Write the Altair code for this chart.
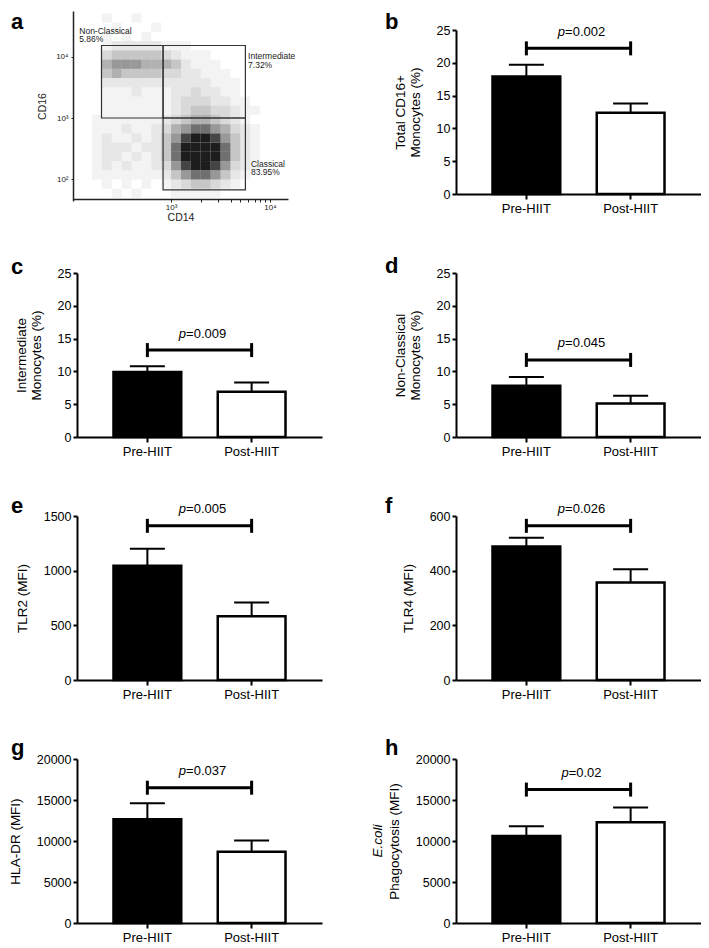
import altair as alt
import pandas as pd

FONT = "Liberation Sans, Arial, Helvetica, sans-serif"
GROUPS = ["Pre-HIIT", "Post-HIIT"]

# ---------------- bar panels b..h ----------------
PANELS = ["b", "c", "d", "e", "f", "g", "h"]
Y_TITLES = [
    ["Total CD16+", "Monocytes (%)"],
    ["Intermediate", "Monocytes (%)"],
    ["Non-Classical", "Monocytes (%)"],
    "TLR2 (MFI)",
    "TLR4 (MFI)",
    "HLA-DR (MFI)",
    "Phagocytosis (MFI)",
]
MEAN_PRE = [17.9, 9.9, 7.8, 1045, 488, 12650, 10600]
MEAN_POST = [12.4, 6.9, 5.1, 582, 357, 8700, 12300]
UPPER_PRE = [19.7, 10.8, 9.15, 1200, 520, 14600, 11800]
UPPER_POST = [13.8, 8.3, 6.3, 709, 405, 10050, 14100]
BRACKET_Y = [22.2, 13.25, 11.75, 1410, 564, 16500, 16270]
P_VALUES = ["0.002", "0.009", "0.045", "0.005", "0.026", "0.037", "0.02"]
Y_MAX = [25, 25, 25, 1500, 600, 20000, 20000]
Y_STEP = [5, 5, 5, 500, 200, 5000, 5000]

# ---------------- panel a (flow cytometry) ----------------
# density of dots, level 0-9, per log10 cell
X_EDGES_LOG = [2.0, 2.1, 2.2, 2.3, 2.4, 2.5, 2.6, 2.7, 2.8, 2.9, 3.0, 3.1,
               3.2, 3.3, 3.4, 3.5, 3.6, 3.7, 3.8, 3.9, 4.0, 4.1, 4.2]
Y_EDGES_LOG = [4.70, 4.55, 4.40, 4.25, 4.10, 3.95, 3.80, 3.65, 3.50, 3.35, 3.20,
               3.05, 2.90, 2.75, 2.60, 2.45, 2.30, 2.15, 2.00, 1.85, 1.70]
DENSITY_ROWS = [
    "0001001000000000000000",
    "0000100010000000000000",
    "0001010100000000000000",
    "0001222221110000000000",
    "0003444443211100000000",
    "0005666555421110000000",
    "0004544443322111000000",
    "0002222222222211100000",
    "0001112111223221100000",
    "0001111111233322110000",
    "0001111111234433211000",
    "0011111112345543210000",
    "0011121123567765321000",
    "0012112124689986421000",
    "0012221224799997421000",
    "0012212124799997421000",
    "0012121123689986321000",
    "0011111112467764210000",
    "0001010101234432100000",
    "0000101000111110000000",
]
DENSITY_LEVELS = [1, 2, 3, 4, 5, 6, 7, 8, 9]
GATE_X0 = [198, 830, 830]
GATE_X1 = [830, 5640, 5640]
GATE_Y0 = [1000, 1000, 68]
GATE_Y1 = [15100, 15100, 1000]
GATE_NAMES = ["Non-Classical", "Intermediate", "Classical"]
GATE_PCTS = ["5.86%", "7.32%", "83.95%"]
GATE_LABEL_X = [118, 6000, 6420]
GATE_LABEL_Y = [30200, 11800, 208]
XA_DOMAIN = [102, 15200]
YA_DOMAIN = [44.7, 54950]
XA_TICKS = [1000, 2000, 3000, 4000, 5000, 6000, 7000, 8000, 9000, 10000]
YA_TICKS = [100, 1000, 10000]

# ---------------- layout / style ----------------
W, H = 245, 164
PAD = 0.35
STEP = W / (2 - PAD + 2 * PAD)
LETTER_X = {"a": -66, "b": -71, "c": -66, "d": -71, "e": -66, "f": -71, "g": -66, "h": -71}
LETTER_BASE = {"a": -1, "b": -1, "c": 1, "d": 0, "e": -3, "f": -3, "g": -4, "h": -4}
DENSITY_OPACITY = [0.05, 0.10, 0.16, 0.24, 0.33, 0.43, 0.60, 0.78, 0.95]
CHAR_W = {".": 0.278, "=": 0.584}


def text_width(s, size):
    return sum(CHAR_W.get(ch, 0.556) for ch in s) * size


def letter_layer(letter):
    return alt.Chart(pd.DataFrame({"t": [letter]})).mark_text(
        font=FONT, fontSize=22, fontWeight="bold", align="left",
        baseline="alphabetic", color="black"
    ).encode(x=alt.value(LETTER_X[letter]), y=alt.value(LETTER_BASE[letter]), text="t:N")


def bar_panel(i):
    letter = PANELS[i]
    df_bar = pd.DataFrame({"group": GROUPS,
                           "mean": [MEAN_PRE[i], MEAN_POST[i]],
                           "upper": [UPPER_PRE[i], UPPER_POST[i]]})
    df_br = pd.DataFrame({"group": GROUPS, "y": [BRACKET_Y[i], BRACKET_Y[i]]})
    rest = "=" + P_VALUES[i]
    df_p = pd.DataFrame({"group": [GROUPS[0]], "y": [BRACKET_Y[i]], "p": ["p"], "rest": [rest]})
    fs = 13
    pw = text_width("p", fs)
    total = pw + text_width(rest, fs)
    dx_split = STEP / 2 + 3 - total / 2 + pw

    ticks = list(range(0, Y_MAX[i] + 1, Y_STEP[i]))
    x_enc = alt.X(
        "group:N", sort=GROUPS,
        scale=alt.Scale(domain=GROUPS, paddingInner=PAD, paddingOuter=PAD),
        axis=alt.Axis(title=None, labelAngle=0, labelFont=FONT, labelFontSize=13,
                      labelColor="black", labelPadding=3, tickSize=5, tickWidth=2,
                      tickColor="black", domainColor="black", domainWidth=2, grid=False),
    )
    y_enc = alt.Y(
        "mean:Q",
        scale=alt.Scale(domain=[0, Y_MAX[i]], nice=False, zero=True),
        axis=alt.Axis(values=ticks, tickCount=20, format="d", title=Y_TITLES[i], grid=False,
                      labelOverlap=False, labelFont=FONT, labelFontSize=12.5,
                      labelColor="black", labelPadding=2,
                      tickSize=4, tickWidth=2, tickColor="black",
                      domainColor="black", domainWidth=2,
                      titleFont=FONT, titleFontSize=13.5, titleFontWeight="normal",
                      titleColor="black", titlePadding=14, titleLineHeight=15),
    )
    bars = alt.Chart(df_bar).mark_bar(stroke="black", strokeWidth=2.5).encode(
        x=x_enc, y=y_enc,
        fill=alt.Fill("group:N", scale=alt.Scale(domain=GROUPS, range=["#000000", "#ffffff"]), legend=None),
    )
    err = alt.Chart(df_bar).mark_rule(color="black", strokeWidth=2).encode(
        x="group:N", y="mean:Q", y2="upper:Q")
    cap = alt.Chart(df_bar).mark_tick(orient="horizontal", size=35, thickness=2,
                                      color="black", opacity=1).encode(
        x="group:N", y="upper:Q")
    br_line = alt.Chart(df_br).mark_line(color="black", strokeWidth=3).encode(
        x="group:N", y="y:Q")
    br_caps = alt.Chart(df_br).mark_tick(orient="vertical", size=14, thickness=3,
                                         color="black", opacity=1).encode(
        x="group:N", y="y:Q")
    p_it = alt.Chart(df_p).mark_text(font=FONT, fontSize=fs, fontStyle="italic", align="right",
                                     baseline="alphabetic", dx=dx_split, dy=-12.5,
                                     color="black").encode(x="group:N", y="y:Q", text="p:N")
    p_rest = alt.Chart(df_p).mark_text(font=FONT, fontSize=fs, align="left",
                                       baseline="alphabetic", dx=dx_split, dy=-12.5,
                                       color="black").encode(x="group:N", y="y:Q", text="rest:N")
    layers = [bars, err, cap, br_line, br_caps, p_it, p_rest, letter_layer(letter)]
    if letter == "h":
        ecoli = alt.Chart(pd.DataFrame({"t": ["E.coli"]})).mark_text(
            font=FONT, fontSize=13.5, fontStyle="italic", angle=270, align="center",
            baseline="middle", color="black"
        ).encode(x=alt.value(-78), y=alt.value(H / 2), text="t:N")
        layers.append(ecoli)
    return alt.layer(*layers).properties(width=W, height=H)


def panel_a():
    rows = []
    for r, row in enumerate(DENSITY_ROWS):
        for c, ch in enumerate(row[:len(X_EDGES_LOG) - 1]):
            lvl = int(ch)
            if lvl > 0:
                rows.append({"x0": 10 ** X_EDGES_LOG[c], "x1": 10 ** X_EDGES_LOG[c + 1],
                             "y0": 10 ** Y_EDGES_LOG[r + 1], "y1": 10 ** Y_EDGES_LOG[r],
                             "level": lvl})
    df_d = pd.DataFrame(rows)
    xs = alt.Scale(type="log", domain=XA_DOMAIN, range=[-4, 211], nice=False)
    ys = alt.Scale(type="log", domain=YA_DOMAIN, range=[171, -19], nice=False)
    xaxis = alt.Axis(values=XA_TICKS, tickCount=40, labelOverlap=False, grid=False,
                     labelExpr="datum.value == 1000 ? '10³' : (datum.value == 10000 ? '10⁴' : '')",
                     title="CD14", titleFont=FONT, titleFontSize=10.5, titleFontWeight="normal",
                     titleColor="#222", titlePadding=1, labelFont=FONT, labelFontSize=8,
                     labelColor="#222", labelPadding=1, tickSize=3, tickWidth=1, tickColor="#222",
                     domainColor="#222", domainWidth=1.5, offset=5)
    yaxis = alt.Axis(values=YA_TICKS, tickCount=20, labelOverlap=False, grid=False,
                     labelExpr="datum.value == 100 ? '10²' : (datum.value == 1000 ? '10³' : '10⁴')",
                     title="CD16", titleFont=FONT, titleFontSize=10.5, titleFontWeight="normal",
                     titleColor="#222", titlePadding=8, labelFont=FONT, labelFontSize=8,
                     labelColor="#222", labelPadding=3, tickSize=2, tickWidth=1, tickColor="#222",
                     domainColor="#222", domainWidth=1.5, offset=4)
    dens = alt.Chart(df_d).mark_rect(color="#111111").encode(
        x=alt.X("x0:Q", scale=xs, axis=xaxis), x2="x1:Q",
        y=alt.Y("y0:Q", scale=ys, axis=yaxis), y2="y1:Q",
        opacity=alt.Opacity("level:Q", scale=alt.Scale(domain=DENSITY_LEVELS, range=DENSITY_OPACITY),
                            legend=None),
    )
    df_g = pd.DataFrame({"x0": GATE_X0, "x1": GATE_X1, "y0": GATE_Y0, "y1": GATE_Y1})
    gates = alt.Chart(df_g).mark_rect(fillOpacity=0, stroke="#333333", strokeWidth=1.2).encode(
        x="x0:Q", x2="x1:Q", y="y0:Q", y2="y1:Q")
    df_l = pd.DataFrame({"x": GATE_LABEL_X, "y": GATE_LABEL_Y,
                         "t": [n + "\n" + p for n, p in zip(GATE_NAMES, GATE_PCTS)]})
    labels = alt.Chart(df_l).mark_text(font=FONT, fontSize=8.5, lineHeight=8.5, lineBreak="\n",
                                       align="left", baseline="top", color="#222").encode(
        x="x:Q", y="y:Q", text="t:N")
    return alt.layer(dens, gates, labels, letter_layer("a")).properties(width=W, height=H)


panels = [panel_a()] + [bar_panel(i) for i in range(len(PANELS))]
chart = alt.concat(
    *panels, columns=2, spacing=alt.RowColnumber(row=79, column=134), bounds="flush"
).properties(padding={"top": 3, "left": 0, "right": 0, "bottom": 0}).configure_view(stroke=None)

chart.save("out.html", embed_options={"renderer": "svg", "actions": False})
